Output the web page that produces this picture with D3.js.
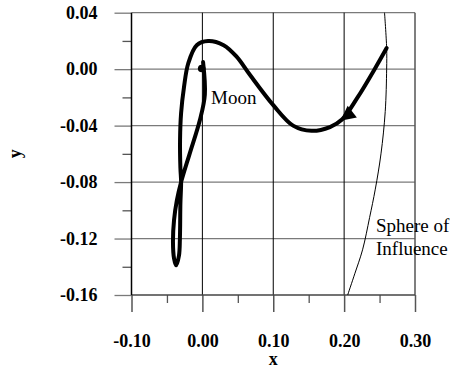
<!DOCTYPE html>
<html>
<head>
<meta charset="utf-8">
<script src="https://cdn.jsdelivr.net/npm/d3@7"></script>
</head>
<body style="margin:0; background:#fff">
<div id="chart"></div>
<script>
// ticks
const xMajor = [-0.10, 0.00, 0.10, 0.20, 0.30];
const xMinor = [-0.05, 0.05, 0.15, 0.25];
const yMajor = [0.04, 0.00, -0.04, -0.08, -0.12, -0.16];
const yMinor = [0.02, -0.02, -0.06, -0.10, -0.14];

// spacecraft trajectory (start on the right)
const trajX = [0.260, 0.243, 0.219, 0.197, 0.180, 0.154, 0.128, 0.100, 0.067, 0.048, 0.030, 0.008, -0.008, -0.020,
  -0.026, -0.030, -0.0315, -0.031, -0.030, -0.031, -0.0317, -0.033, -0.037, -0.040, -0.0415, -0.040, -0.036,
  -0.030, -0.018, -0.0035, 0.0035, 0.001];
const trajY = [0.015, 0.000, -0.020, -0.0357, -0.041, -0.0437, -0.040, -0.0255, -0.004, 0.009, 0.017, 0.020, 0.017, 0.004,
  -0.013, -0.031, -0.050, -0.070, -0.080, -0.095, -0.120, -0.132, -0.139, -0.134, -0.122, -0.107, -0.093,
  -0.080, -0.060, -0.036, -0.018, 0.005];
const arrowAt = 3;

// sphere of influence boundary
const soiX = [0.257, 0.260, 0.260, 0.258, 0.252, 0.244, 0.236, 0.226, 0.215, 0.205];
const soiY = [0.040, 0.015, 0.000, -0.030, -0.060, -0.085, -0.105, -0.128, -0.145, -0.160];

const moon = [-0.001, 0.0005];

const FONT = 'Liberation Serif';
const width = 453, height = 372;
const svg = d3.select('#chart').append('svg')
  .attr('width', width)
  .attr('height', height);

const x = d3.scaleLinear().domain([-0.10, 0.30]).range([131.5, 415]);
const y = d3.scaleLinear().domain([-0.16, 0.04]).range([295, 12.7]);
const fmt = d => d.toFixed(2);

// grid
svg.append('g').selectAll('line')
  .data(yMajor.slice(0, -1))
  .enter().append('line')
  .attr('x1', x(-0.10)).attr('x2', x(0.30))
  .attr('y1', d => y(d)).attr('y2', d => y(d))
  .attr('stroke', '#7a7a7a').attr('stroke-width', 1.3);

svg.append('g').selectAll('line')
  .data([0.00, 0.10, 0.20])
  .enter().append('line')
  .attr('x1', d => x(d)).attr('x2', d => x(d))
  .attr('y1', y(0.04)).attr('y2', y(-0.16))
  .attr('stroke', '#000').attr('stroke-width', 1);

// right border
svg.append('line')
  .attr('x1', x(0.30)).attr('x2', x(0.30))
  .attr('y1', y(0.04)).attr('y2', y(-0.16))
  .attr('stroke', '#555').attr('stroke-width', 1.5);

// y axis
const yAxis = svg.append('g')
  .attr('transform', `translate(${x(-0.10)},0)`)
  .call(d3.axisLeft(y).tickValues(yMajor).tickSize(17).tickPadding(17).tickFormat(fmt));
yAxis.select('.domain').remove();
yAxis.selectAll('.tick line').attr('stroke', '#7a7a7a').attr('stroke-width', 1.3);
yAxis.selectAll('.tick text')
  .style('font-family', FONT)
  .style('font-size', '18px').style('font-weight', 'bold').attr('fill', '#000');

svg.append('g')
  .attr('transform', `translate(${x(-0.10)},0)`)
  .call(d3.axisLeft(y).tickValues(yMinor).tickSize(9).tickFormat(''))
  .call(g => g.select('.domain').remove())
  .selectAll('.tick line').attr('stroke', '#555').attr('stroke-width', 1.3);

// x axis
const xAxis = svg.append('g')
  .attr('transform', `translate(0,${y(-0.16)})`)
  .call(d3.axisBottom(x).tickValues(xMajor).tickSize(17).tickPadding(22).tickFormat(fmt));
xAxis.select('.domain').remove();
xAxis.selectAll('.tick line').attr('stroke', '#555').attr('stroke-width', 1.5);
xAxis.selectAll('.tick text')
  .style('font-family', FONT)
  .style('font-size', '18px').style('font-weight', 'bold').attr('fill', '#000');

svg.append('g')
  .attr('transform', `translate(0,${y(-0.16)})`)
  .call(d3.axisBottom(x).tickValues(xMinor).tickSize(8).tickFormat(''))
  .call(g => g.select('.domain').remove())
  .selectAll('.tick line').attr('stroke', '#555').attr('stroke-width', 1.3);

// frame lines
svg.append('line')
  .attr('x1', x(-0.10)).attr('x2', x(0.30))
  .attr('y1', y(-0.16)).attr('y2', y(-0.16))
  .attr('stroke', '#444').attr('stroke-width', 1.5);
svg.append('line')
  .attr('x1', x(-0.10)).attr('x2', x(-0.10))
  .attr('y1', y(0.04)).attr('y2', y(-0.16))
  .attr('stroke', '#000').attr('stroke-width', 1.5);

// axis titles
svg.append('text')
  .attr('x', (x(-0.10) + x(0.30)) / 2).attr('y', 365)
  .attr('text-anchor', 'middle')
  .style('font-family', FONT).style('font-size', '18px').style('font-weight', 'bold')
  .text('x');
svg.append('text')
  .attr('transform', `translate(21,${(y(0.04) + y(-0.16)) / 2}) rotate(-90)`)
  .attr('text-anchor', 'middle')
  .style('font-family', FONT).style('font-size', '18px').style('font-weight', 'bold')
  .text('y');

// sphere of influence
const line = d3.line().curve(d3.curveCatmullRom.alpha(0.5));
svg.append('path')
  .attr('d', line(soiX.map((d, i) => [x(d), y(soiY[i])])))
  .attr('fill', 'none').attr('stroke', '#000').attr('stroke-width', 1);

// trajectory
const pts = trajX.map((d, i) => [x(d), y(trajY[i])]);
svg.append('path')
  .attr('d', line(pts))
  .attr('fill', 'none').attr('stroke', '#000')
  .attr('stroke-width', 4).attr('stroke-linejoin', 'round').attr('stroke-linecap', 'round');

// arrowhead along the path, pointing the way the craft travels
const tip = pts[arrowAt];
const next = pts[arrowAt + 1];
const ang = Math.atan2(next[1] - tip[1], next[0] - tip[0]) * 180 / Math.PI - 6;
svg.append('path')
  .attr('d', 'M2,0 L-13,-7.5 L-13,7.5 Z')
  .attr('transform', `translate(${tip[0]},${tip[1]}) rotate(${ang})`)
  .attr('fill', '#000');

// moon
svg.append('circle')
  .attr('cx', x(moon[0])).attr('cy', y(moon[1]))
  .attr('r', 3.8).attr('fill', '#000');

// labels
const notes = [['Moon', 211, 104], ['Sphere of', 376, 232], ['Influence', 376, 255]];
svg.selectAll('text.note')
  .data(notes)
  .enter().append('text')
  .attr('class', 'note')
  .attr('x', d => d[1]).attr('y', d => d[2])
  .style('font-family', FONT).style('font-size', '19px')
  .text(d => d[0]);
</script>
</body>
</html>
